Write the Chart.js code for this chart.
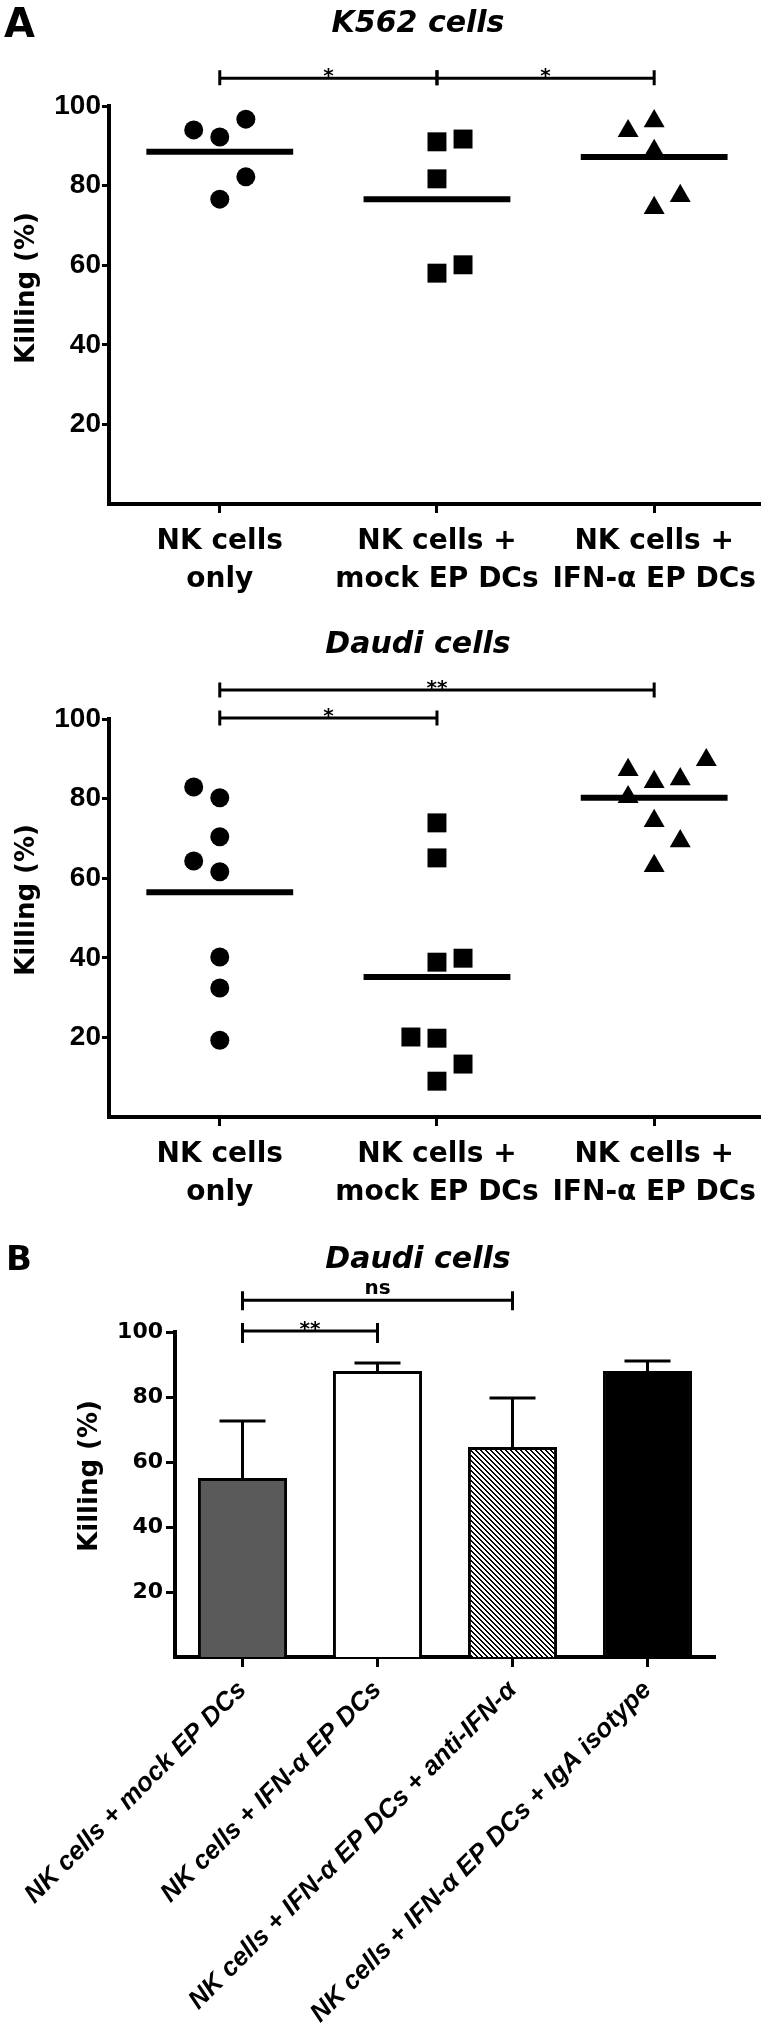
<!DOCTYPE html>
<html><head><meta charset="utf-8">
<script src="https://cdn.jsdelivr.net/npm/chart.js@4.4.1/dist/chart.umd.min.js"></script>
<style>
html,body{margin:0;padding:0;background:#fff;}
body{width:774px;height:2025px;position:relative;overflow:hidden;}
.p{position:absolute;left:0;width:774px;}
canvas{display:block;}
</style></head><body>
<div class="p" style="top:0;height:620px"><canvas id="c1"></canvas></div>
<div class="p" style="top:620px;height:610px"><canvas id="c2"></canvas></div>
<div class="p" style="top:1230px;height:795px"><canvas id="c3"></canvas></div>
<script>
// ---------- data ----------
const groupLabelsA = [['NK cells', 'only'], ['NK cells +', 'mock EP DCs'], ['NK cells +', 'IFN-α EP DCs']];
const k562NkOnly = [94.0, 92.2, 96.7, 82.2, 76.6];
const k562Mock   = [91.0, 91.7, 81.7, 58.0, 60.1];
const k562Ifn    = [93.7, 96.2, 88.7, 77.4, 74.4];
const k562Means  = [88.5, 76.6, 87.2];
const daudiNkOnly = [82.9, 80.2, 70.4, 64.3, 61.6, 40.2, 32.4, 19.3];
const daudiMock   = [73.9, 65.1, 38.9, 39.9, 20.1, 19.8, 13.3, 9.0];
const daudiIfn    = [87.2, 84.2, 84.9, 89.7, 80.4, 74.4, 69.3, 63.1];
const daudiMeans  = [56.5, 35.2, 80.2];
const barLabelsB = ['NK cells + mock EP DCs', 'NK cells + IFN-α EP DCs', 'NK cells + IFN-α EP DCs + anti-IFN-α', 'NK cells + IFN-α EP DCs + IgA isotype'];
const barMeansB  = [55.1, 88.0, 64.6, 88.0];
const barUpperB  = [72.6, 90.5, 79.7, 91.1];
const yTickValues = [20, 40, 60, 80, 100];
const yTitle = 'Killing (%)';

// ---------- layout (horizontal scatter of dots, bracket placement) ----------
const jitK562  = [[-0.12, 0, 0.12, 0.12, 0], [0, 0.12, 0, 0, 0.12], [-0.12, 0, 0, 0.12, 0]];
const jitDaudi = [[-0.12, 0, 0, -0.12, 0, 0, 0, 0], [0, 0, 0, 0.12, -0.12, 0, 0.12, 0], [-0.12, 0, 0.12, 0.24, -0.12, 0, 0.12, 0]];
const FONT = '"DejaVu Sans", sans-serif';

const deco = {
  id: 'deco',
  afterDraw(chart, args, o) {
    const ctx = chart.ctx, xs = chart.scales.x, ys = chart.scales.y;
    ctx.save();
    ctx.fillStyle = '#000'; ctx.strokeStyle = '#000';
    if (o.letter) {
      ctx.font = `bold ${o.letterSize}px ${FONT}`;
      ctx.textAlign = 'left'; ctx.textBaseline = 'alphabetic';
      ctx.fillText(o.letter, o.letterX, o.letterY);
    }
    ctx.font = `italic bold 30px ${FONT}`;
    ctx.textAlign = 'center'; ctx.textBaseline = 'alphabetic';
    ctx.fillText(o.title, o.titleX, o.titleY);
    ctx.save();
    ctx.translate(o.yTitleX, o.yTitleY); ctx.rotate(-Math.PI / 2);
    ctx.font = `bold 26px ${FONT}`; ctx.textBaseline = 'middle'; ctx.textAlign = 'center';
    ctx.fillText(yTitle, 0, 0);
    ctx.restore();
    ctx.lineWidth = 3; ctx.lineCap = 'butt';
    for (const b of o.brackets) {
      const x1 = xs.getPixelForValue(b.from), x2 = xs.getPixelForValue(b.to), y = ys.getPixelForValue(b.level);
      ctx.beginPath();
      ctx.moveTo(x1, y); ctx.lineTo(x2, y);
      ctx.moveTo(x1, y - b.up); ctx.lineTo(x1, y + b.down);
      ctx.moveTo(x2, y - b.up); ctx.lineTo(x2, y + b.down);
      ctx.stroke();
      ctx.font = `bold ${b.size}px ${FONT}`; ctx.textAlign = 'center'; ctx.textBaseline = 'alphabetic';
      ctx.fillText(b.label, (x1 + x2) / 2, y + b.dy);
    }
    ctx.restore();
  }
};

function dotDatasets(groups, jit, means) {
  const styles = ['circle', 'rect', 'triangle'];
  const radii = [9.5, 13.4, 12.1];
  const ds = [];
  groups.forEach((vals, g) => {
    ds.push({
      data: vals.map((v, i) => ({x: g + jit[g][i], y: v})),
      pointStyle: styles[g], pointRadius: radii[g], pointBackgroundColor: '#000', backgroundColor: '#000',
      pointBorderWidth: 0, borderWidth: 0, showLine: false, clip: false
    });
  });
  means.forEach((m, g) => {
    ds.push({
      data: [{x: g - 0.338, y: m}, {x: g + 0.338, y: m}],
      showLine: true, borderColor: '#000', borderWidth: 6, pointRadius: 0, borderCapStyle: 'butt', clip: false
    });
  });
  return ds;
}

function dotChart(id, canvasH, top, bottom, groups, jit, means, decoOpts) {
  return new Chart(document.getElementById(id), {
    type: 'scatter',
    data: {datasets: dotDatasets(groups, jit, means)},
    plugins: [deco],
    options: {
      animation: false, responsive: true, maintainAspectRatio: false, events: [],
      layout: {padding: {top: top, left: 0, right: 0, bottom: 0}},
      plugins: {legend: {display: false}, tooltip: {enabled: false}, deco: decoOpts},
      scales: {
        x: {
          type: 'linear', min: -0.51, max: 2.49,
          afterBuildTicks: s => { s.ticks = groupLabelsA.map((_, i) => ({value: i})); },
          ticks: {callback: v => groupLabelsA[v], color: '#000', autoSkip: false, maxRotation: 0, minRotation: 0,
                  font: {family: FONT, weight: 'bold', size: 28, lineHeight: 1.36}, padding: 10},
          grid: {drawOnChartArea: false, drawTicks: true, tickLength: 9, tickWidth: 3, tickColor: '#000', color: '#000'},
          border: {display: true, color: '#000', width: 4},
          afterFit: s => { s.height = canvasH - bottom; s.paddingLeft = 0; s.paddingRight = 0; }
        },
        y: {
          min: 0, max: 100,
          afterBuildTicks: s => { s.ticks = yTickValues.map(v => ({value: v})); },
          ticks: {color: '#000', font: {family: '"Liberation Sans", Arial, sans-serif', weight: 'bold', size: 28}, padding: 1},
          grid: {drawOnChartArea: false, drawTicks: true, tickLength: 7, tickWidth: 3, tickColor: '#000', color: '#000'},
          border: {display: true, color: '#000', width: 4},
          afterFit: s => { s.width = 109; }
        }
      }
    }
  });
}

dotChart('c1', 620, 106, 504, [k562NkOnly, k562Mock, k562Ifn], jitK562, k562Means, {
  letter: 'A', letterSize: 40, letterX: 4, letterY: 37,
  title: 'K562 cells', titleX: 418, titleY: 32,
  yTitleX: 27, yTitleY: 288,
  brackets: [
    {from: 0, to: 1, level: 107.0, up: 8, down: 7, label: '*', size: 20, dy: 4},
    {from: 1, to: 2, level: 107.0, up: 8, down: 7, label: '*', size: 20, dy: 4}
  ]
});

dotChart('c2', 610, 99, 497, [daudiNkOnly, daudiMock, daudiIfn], jitDaudi, daudiMeans, {
  title: 'Daudi cells', titleX: 418, titleY: 33,
  yTitleX: 27, yTitleY: 280,
  brackets: [
    {from: 0, to: 2, level: 107.3, up: 7.5, down: 7.5, label: '**', size: 20, dy: 4},
    {from: 0, to: 1, level: 100.25, up: 7.5, down: 7.5, label: '*', size: 20, dy: 4}
  ]
});

// hatch pattern for the anti-IFN-α bar
const tile = document.createElement('canvas');
tile.width = 5; tile.height = 5;
const tctx = tile.getContext('2d');
const img = tctx.createImageData(5, 5);
for (let yy = 0; yy < 5; yy++) for (let xx = 0; xx < 5; xx++) {
  const on = (((xx - yy) % 5) + 5) % 5 < 2;
  const k = (yy * 5 + xx) * 4;
  const c = on ? 0 : 255;
  img.data[k] = c; img.data[k + 1] = c; img.data[k + 2] = c; img.data[k + 3] = 255;
}
tctx.putImageData(img, 0, 0);
const hatch = tctx.createPattern(tile, 'repeat');

const errorBars = {
  id: 'errorBars',
  afterDatasetsDraw(chart) {
    const ctx = chart.ctx, ys = chart.scales.y, meta = chart.getDatasetMeta(0);
    ctx.save(); ctx.strokeStyle = '#000'; ctx.lineWidth = 3;
    meta.data.forEach((bar, i) => {
      const yb = ys.getPixelForValue(barMeansB[i]), yt = ys.getPixelForValue(barUpperB[i]);
      ctx.beginPath();
      ctx.moveTo(bar.x, yb); ctx.lineTo(bar.x, yt);
      ctx.moveTo(bar.x - 23, yt); ctx.lineTo(bar.x + 23, yt);
      ctx.stroke();
    });
    ctx.restore();
  }
};

new Chart(document.getElementById('c3'), {
  type: 'bar',
  data: {labels: barLabelsB, datasets: [{
    data: barMeansB,
    backgroundColor: ['#5a5a5a', '#ffffff', hatch, '#000000'],
    borderColor: '#000', borderWidth: 3, borderSkipped: 'start',
    barPercentage: 0.66, categoryPercentage: 1
  }]},
  plugins: [errorBars, deco],
  options: {
    animation: false, responsive: true, maintainAspectRatio: false, events: [],
    layout: {padding: {top: 102, left: 0, right: 59, bottom: 0}},
    plugins: {legend: {display: false}, tooltip: {enabled: false}, deco: {
      letter: 'B', letterSize: 34, letterX: 6, letterY: 40,
      title: 'Daudi cells', titleX: 418, titleY: 38,
      yTitleX: 90, yTitleY: 246,
      brackets: [
        {from: 0, to: 2, level: 109.8, up: 9, down: 10, label: 'ns', size: 20, dy: -6},
        {from: 0, to: 1, level: 100.3, up: 8, down: 12, label: '**', size: 20, dy: 4}
      ]
    }},
    scales: {
      x: {
        ticks: {color: '#000', autoSkip: false, minRotation: 45, maxRotation: 45, padding: 8,
                font: {family: '"Liberation Sans", Arial, sans-serif', weight: 'bold', style: 'italic', size: 26}},
        grid: {offset: false, drawOnChartArea: false, drawTicks: true, tickLength: 10, tickWidth: 3, tickColor: '#000', color: '#000'},
        border: {display: true, color: '#000', width: 4},
        afterFit: s => { s.height = 795 - 427; s.paddingLeft = 0; s.paddingRight = 0; }
      },
      y: {
        min: 0, max: 100,
        afterBuildTicks: s => { s.ticks = yTickValues.map(v => ({value: v})); },
        ticks: {color: '#000', font: {family: FONT, weight: 'bold', size: 22}, padding: 3},
        grid: {drawOnChartArea: false, drawTicks: true, tickLength: 9, tickWidth: 3, tickColor: '#000', color: '#000'},
        border: {display: true, color: '#000', width: 4},
        afterFit: s => { s.width = 175; }
      }
    }
  }
});
</script>
</body></html>
